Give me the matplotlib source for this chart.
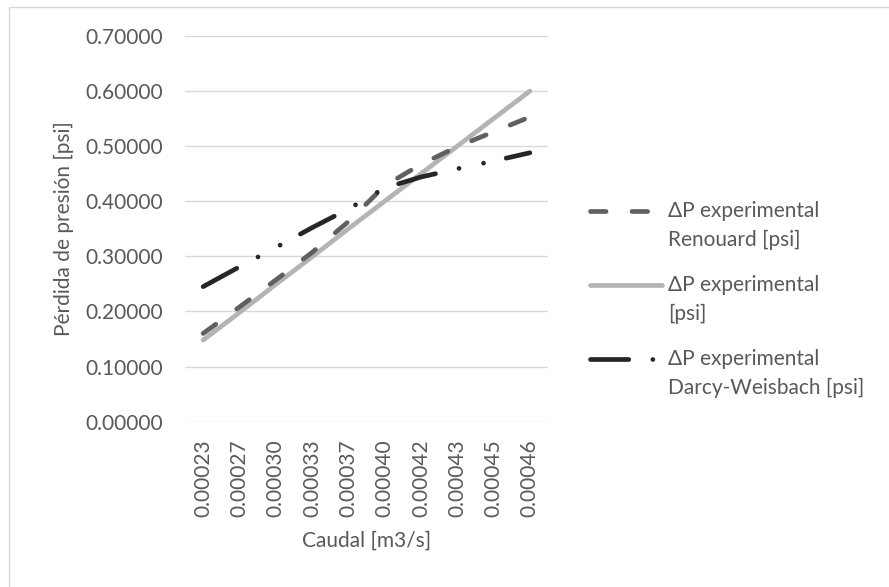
import matplotlib
matplotlib.use('Agg')
import matplotlib.pyplot as plt
from matplotlib.lines import Line2D
from matplotlib.patches import Rectangle
import numpy as np

# datos
caudal = ['0.00023', '0.00027', '0.00030', '0.00033', '0.00037',
          '0.00040', '0.00042', '0.00043', '0.00045', '0.00046']
dp_renouard = [0.160, 0.208, 0.257, 0.307, 0.363, 0.428, 0.467, 0.499, 0.526, 0.553]
dp_experimental = [0.148, 0.198, 0.249, 0.299, 0.350, 0.400, 0.450, 0.500, 0.550, 0.600]
dp_darcy = [0.245, 0.281, 0.316, 0.352, 0.386, 0.424, 0.444, 0.459, 0.473, 0.488]
y_ticks = [0.0, 0.1, 0.2, 0.3, 0.4, 0.5, 0.6, 0.7]

plt.rcParams['font.family'] = ['Lato', 'DejaVu Sans']
txt = '#595959'
W, H = 889, 587

def fx(px):
    return px / W

def fy(py):
    return 1 - py / H

fig = plt.figure(figsize=(W / 100, H / 100), dpi=100)
ax = fig.add_axes([fx(185), fy(421.6), fx(548) - fx(185), fy(36) - fy(421.6)])

x = np.arange(len(caudal))
lw = 3.4
# estilos tipo excel (guion largo / guion-punto-punto)
ls_ren = (0, (3.3, 5.5))
ls_exp = '-'
ls_dar = (0, (8.1, 5.1, 0.01, 5.3, 0.01, 4.9))

series = [
    (dp_renouard, '#606060', ls_ren, 'ΔP experimental\nRenouard [psi]', 3),
    (dp_experimental, '#b4b4b4', ls_exp, 'ΔP experimental\n[psi]', 2),
    (dp_darcy, '#262626', ls_dar, 'ΔP experimental\nDarcy-Weisbach [psi]', 4),
]
for vals, col, ls, lab, z in series:
    ax.plot(x, vals, color=col, lw=lw, linestyle=ls, dash_capstyle='round',
            solid_capstyle='round', zorder=z)

ax.set_xlim(-0.5, len(caudal) - 0.5)
ax.set_ylim(0, 0.7)
ax.set_yticks(y_ticks)
ax.set_yticklabels(['{:.5f}'.format(v) for v in y_ticks])
ax.set_xticks(x)
ax.set_xticklabels(caudal, rotation=90)
ax.grid(axis='y', color='#d9d9d9', lw=1.0)
ax.set_axisbelow(True)
for s in ax.spines.values():
    s.set_visible(False)
ax.tick_params(axis='y', length=0, pad=16, labelsize=15, labelcolor=txt)
ax.tick_params(axis='x', length=0, pad=13, labelsize=15, labelcolor=txt)

ax.set_xlabel('Caudal [m3/s]', fontsize=15, color=txt, labelpad=10)
ax.set_ylabel('Pérdida de presión [psi]', fontsize=15, color=txt, labelpad=8)

# leyenda a mano (la linea va con la primera linea del texto)
leg_y = [211, 285, 359]
for (vals, col, ls, lab, z), yy in zip(series, leg_y):
    fig.add_artist(Line2D([fx(590), fx(662)], [fy(yy), fy(yy)],
                          color=col, lw=lw, linestyle=ls,
                          dash_capstyle='round', solid_capstyle='round'))
    for k, t in enumerate(lab.split('\n')):
        fig.text(fx(668), fy(yy + 29 * k), t, fontsize=15, color=txt,
                 ha='left', va='center')

# borde del area del grafico
fig.add_artist(Rectangle((fx(9), fy(600)), 1.0, fy(7) - fy(600),
                         transform=fig.transFigure, fill=False,
                         edgecolor='#d9d9d9', lw=1.0))

fig.savefig('out.png', dpi=100)
